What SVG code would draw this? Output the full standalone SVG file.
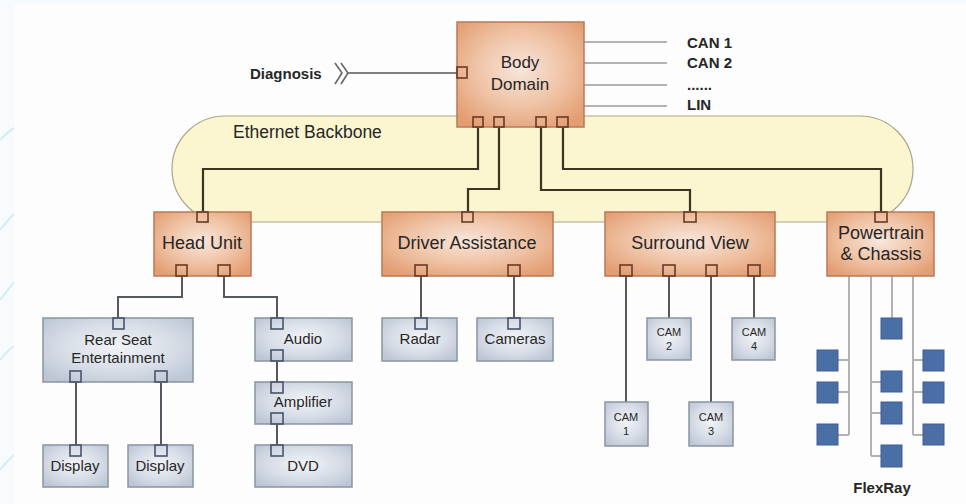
<svg xmlns="http://www.w3.org/2000/svg" width="966" height="504" viewBox="0 0 966 504">
<defs>
<radialGradient id="gO" cx="50%" cy="45%" r="65%">
<stop offset="0" stop-color="#f8e6dc"/>
<stop offset="0.55" stop-color="#efc2a4"/>
<stop offset="1" stop-color="#e39d72"/>
</radialGradient>
<radialGradient id="gG" cx="50%" cy="45%" r="65%">
<stop offset="0" stop-color="#f1f3f7"/>
<stop offset="0.6" stop-color="#d6dce6"/>
<stop offset="1" stop-color="#bcc6d4"/>
</radialGradient>
<style>
.o{fill:url(#gO);stroke:#b97a57;stroke-width:1.5}
.g{fill:url(#gG);stroke:#8a94a3;stroke-width:1.5}
.po{fill:none;stroke:#6a3a24;stroke-width:1.6}
.pg{fill:none;stroke:#47546a;stroke-width:1.6}
.t{font-family:"Liberation Sans",Arial,sans-serif;fill:#262626;text-anchor:middle}
.to{font-size:18px}
.tg{font-size:15px}
.tc{font-size:11px}
.b{font-family:"Liberation Sans",Arial,sans-serif;font-weight:bold;font-size:15px;fill:#262626}
.eth{fill:none;stroke:#3a3420;stroke-width:2.2}
.gl{fill:none;stroke:#555a60;stroke-width:2}
.fl{fill:none;stroke:#b3b3b3;stroke-width:2}
.fs{fill:#4a6ea6;stroke:#3e5f92;stroke-width:1}
.can{fill:none;stroke:#9a9a9a;stroke-width:1.5}
</style>
</defs>
<rect width="966" height="504" fill="#f7fbfd"/>
<rect x="14" y="4" width="952" height="500" fill="#fdfdfd"/>
<g fill="none" stroke="#d3edf3" stroke-width="2">
<path d="M0 140 Q10 130 14 128"/>
<path d="M0 230 Q8 220 14 214"/>
<path d="M0 300 Q8 290 14 282"/>
<path d="M0 360 Q8 350 14 346"/>
<path d="M0 470 Q8 460 14 455"/>
</g>

<g id="backbone">
<rect x="172" y="116" width="741" height="106" rx="53" ry="53" fill="#fbf6cf" stroke="#a9a58a" stroke-width="1.2"/>
<text x="233" y="138" font-family="Liberation Sans,Arial,sans-serif" font-size="17.5" fill="#262626">Ethernet Backbone</text>
</g>

<g id="connectors">
<path class="eth" d="M478 127 V169 H203 V212"/>
<path class="eth" d="M499 127 V189 H468 V212"/>
<path class="eth" d="M541 127 V190 H690 V212"/>
<path class="eth" d="M563 127 V169 H881 V212"/>
<path class="gl" d="M182 276 V297 H118 V318"/>
<path class="gl" d="M224 276 V297 H277 V318"/>
<path class="gl" d="M277 361 V382"/>
<path class="gl" d="M277 424 V445"/>
<path class="gl" d="M76 382 V445"/>
<path class="gl" d="M161 382 V445"/>
<path class="gl" d="M421 276 V318"/>
<path class="gl" d="M514 276 V318"/>
<path class="gl" d="M626 276 V402"/>
<path class="gl" d="M669 276 V318"/>
<path class="gl" d="M711 276 V402"/>
<path class="gl" d="M754 276 V318"/>
<path class="fl" d="M849 276 V435 M849 360 H838 M849 392 H838 M849 435 H838"/>
<path class="fl" d="M871 276 V456 M871 382 H881 M871 413 H881 M871 456 H881"/>
<path class="fl" d="M892 276 V318"/>
<path class="fl" d="M913 276 V435 M913 360 H923 M913 392 H923 M913 435 H923"/>
<path class="can" d="M584 42 H667 M584 63 H667 M584 85 H667 M584 106 H667"/>
<path d="M348 73 H457" stroke="#555" stroke-width="1.5" fill="none"/>
<path d="M335 63 L342 73 L335 84 M341 63 L348 73 L341 84" fill="none" stroke="#666" stroke-width="1.6"/>
</g>

<g id="diagnosis"><text class="b" x="250" y="79" font-size="15.5">Diagnosis</text></g>
<g id="can-labels">
<text class="b" x="687" y="48">CAN 1</text>
<text class="b" x="687" y="68">CAN 2</text>
<text class="b" x="687" y="90">......</text>
<text class="b" x="687" y="110">LIN</text>
</g>

<g id="body-domain">
<rect class="o" x="457" y="22" width="127" height="105"/>
<rect class="po" x="457" y="67" width="10" height="11"/>
<rect class="po" x="473" y="117" width="10" height="10"/>
<rect class="po" x="494" y="117" width="10" height="10"/>
<rect class="po" x="536" y="117" width="10" height="10"/>
<rect class="po" x="557" y="117" width="11" height="10"/>
<text class="t" x="520" y="68" font-size="17">Body</text>
<text class="t" x="520" y="90" font-size="17">Domain</text>
</g>

<g id="head-unit">
<rect class="o" x="154" y="212" width="97" height="64"/>
<rect class="po" x="197" y="212" width="11" height="10"/>
<rect class="po" x="176" y="265" width="11" height="11"/>
<rect class="po" x="218" y="265" width="12" height="11"/>
<text class="t to" x="202" y="249">Head Unit</text>
</g>
<g id="driver-assistance">
<rect class="o" x="382" y="212" width="171" height="64"/>
<rect class="po" x="462" y="212" width="11" height="10"/>
<rect class="po" x="415" y="265" width="12" height="11"/>
<rect class="po" x="508" y="265" width="12" height="11"/>
<text class="t to" x="467" y="249">Driver Assistance</text>
</g>
<g id="surround-view">
<rect class="o" x="605" y="212" width="170" height="64"/>
<rect class="po" x="684" y="212" width="12" height="10"/>
<rect class="po" x="620" y="265" width="12" height="11"/>
<rect class="po" x="663" y="265" width="12" height="11"/>
<rect class="po" x="706" y="265" width="11" height="11"/>
<rect class="po" x="748" y="265" width="12" height="11"/>
<text class="t to" x="690" y="249">Surround View</text>
</g>
<g id="powertrain">
<rect class="o" x="827" y="212" width="107" height="64"/>
<rect class="po" x="875" y="212" width="12" height="10"/>
<text class="t to" x="881" y="239">Powertrain</text>
<text class="t to" x="881" y="260">&amp; Chassis</text>
</g>

<g id="rear-seat">
<rect class="g" x="43" y="318" width="150" height="64"/>
<rect class="pg" x="113" y="318" width="11" height="11"/>
<rect class="pg" x="70" y="371" width="11" height="11"/>
<rect class="pg" x="155" y="371" width="12" height="11"/>
<text class="t tg" x="118" y="345">Rear Seat</text>
<text class="t tg" x="118" y="363">Entertainment</text>
</g>
<g id="display-1">
<rect class="g" x="43" y="445" width="65" height="42"/>
<rect class="pg" x="70" y="445" width="11" height="11"/>
<text class="t tg" x="75" y="471">Display</text>
</g>
<g id="display-2">
<rect class="g" x="128" y="445" width="65" height="42"/>
<rect class="pg" x="155" y="445" width="12" height="11"/>
<text class="t tg" x="160" y="471">Display</text>
</g>
<g id="audio">
<rect class="g" x="255" y="318" width="97" height="43"/>
<rect class="pg" x="271" y="318" width="12" height="11"/>
<rect class="pg" x="271" y="350" width="12" height="11"/>
<text class="t tg" x="303" y="344">Audio</text>
</g>
<g id="amplifier">
<rect class="g" x="255" y="382" width="97" height="42"/>
<rect class="pg" x="271" y="382" width="12" height="11"/>
<rect class="pg" x="271" y="413" width="12" height="11"/>
<text class="t tg" x="303" y="407">Amplifier</text>
</g>
<g id="dvd">
<rect class="g" x="255" y="445" width="97" height="42"/>
<rect class="pg" x="271" y="445" width="12" height="11"/>
<text class="t tg" x="303" y="471">DVD</text>
</g>
<g id="radar">
<rect class="g" x="382" y="318" width="75" height="43"/>
<rect class="pg" x="415" y="318" width="12" height="11"/>
<text class="t tg" x="420" y="344">Radar</text>
</g>
<g id="cameras">
<rect class="g" x="477" y="318" width="76" height="43"/>
<rect class="pg" x="508" y="318" width="12" height="11"/>
<text class="t tg" x="515" y="344">Cameras</text>
</g>
<g id="cam-2">
<rect class="g" x="647" y="318" width="44" height="42"/>
<text class="t tc" x="669" y="336">CAM</text><text class="t tc" x="669" y="350">2</text>
</g>
<g id="cam-4">
<rect class="g" x="732" y="318" width="43" height="42"/>
<text class="t tc" x="754" y="336">CAM</text><text class="t tc" x="754" y="350">4</text>
</g>
<g id="cam-1">
<rect class="g" x="605" y="402" width="43" height="44"/>
<text class="t tc" x="626" y="421">CAM</text><text class="t tc" x="626" y="435">1</text>
</g>
<g id="cam-3">
<rect class="g" x="689" y="402" width="44" height="44"/>
<text class="t tc" x="711" y="421">CAM</text><text class="t tc" x="711" y="435">3</text>
</g>

<g id="flexray">
<rect class="fs" x="817" y="350" width="21" height="21"/>
<rect class="fs" x="817" y="382" width="21" height="21"/>
<rect class="fs" x="817" y="424" width="21" height="21"/>
<rect class="fs" x="881" y="318" width="21" height="21"/>
<rect class="fs" x="881" y="371" width="21" height="21"/>
<rect class="fs" x="881" y="402" width="21" height="22"/>
<rect class="fs" x="881" y="445" width="21" height="22"/>
<rect class="fs" x="923" y="350" width="21" height="21"/>
<rect class="fs" x="923" y="382" width="21" height="21"/>
<rect class="fs" x="923" y="424" width="21" height="21"/>
<text class="b" x="882" y="493" text-anchor="middle" font-size="16.5">FlexRay</text>
</g>
</svg>
